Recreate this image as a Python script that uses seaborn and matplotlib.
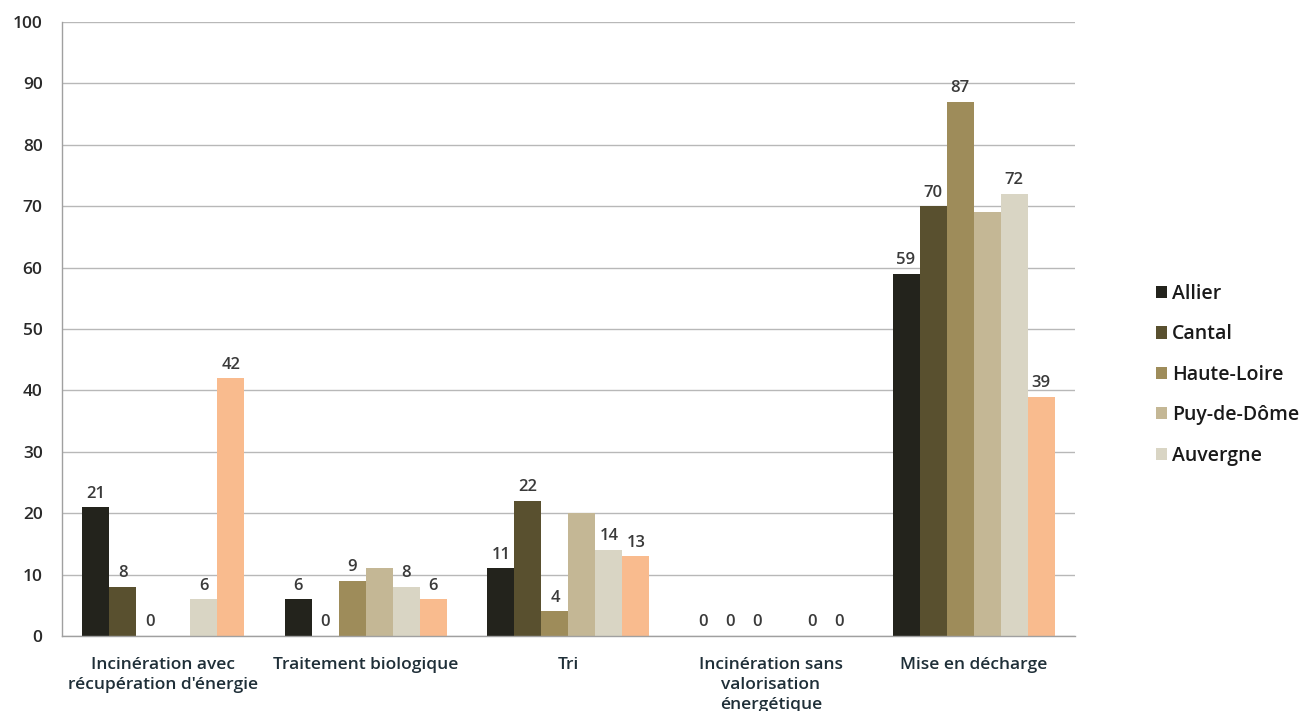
import numpy as np
import pandas as pd
import matplotlib
matplotlib.use("Agg")
import matplotlib.pyplot as plt
import seaborn as sns

# Treatment modes (x categories)
categories = [
    "Incinération avec\nrécupération d'énergie",
    "Traitement biologique",
    "Tri",
    "Incinération sans\nvalorisation\nénergétique",
    "Mise en décharge",
]

# Share (%) of household waste per treatment mode
allier      = [21, 6, 11, 0, 59]
cantal      = [8, 0, 22, 0, 70]
haute_loire = [0, 9, 4, 0, 87]
puy_de_dome = [np.nan, 11, 20, np.nan, 69]
auvergne    = [6, 8, 14, 0, 72]
france      = [42, 6, 13, 0, 39]

series_names = ["Allier", "Cantal", "Haute-Loire", "Puy-de-Dôme", "Auvergne", "France"]
series_values = [allier, cantal, haute_loire, puy_de_dome, auvergne, france]
legend_names = ["Allier", "Cantal", "Haute-Loire", "Puy-de-Dôme", "Auvergne"]
labelled = ["Allier", "Cantal", "Haute-Loire", "Auvergne", "France"]

colors = ["#23231c", "#59502f", "#9e8c5a", "#c4b795", "#d9d5c4", "#f9bb8e"]

rows = []
for name, vals in zip(series_names, series_values):
    for cat, v in zip(categories, vals):
        rows.append({"mode": cat, "zone": name, "pct": v})
df = pd.DataFrame(rows)

sns.set_theme(style="white")
plt.rcParams["font.family"] = ["Open Sans", "DejaVu Sans"]
plt.rcParams["font.weight"] = "semibold"

fig = plt.figure(figsize=(13.06, 7.11), dpi=100)
ax = fig.add_axes([0.0475, 0.1055, 0.7755, 0.8635])

sns.barplot(
    data=df, x="mode", y="pct", hue="zone",
    order=categories, hue_order=series_names,
    palette=colors, width=0.8, saturation=1, linewidth=0,
    errorbar=None, ax=ax,
)

# Value labels above bars (Puy-de-Dôme is not labelled)
for name, cont in zip(series_names, ax.containers):
    if name in labelled:
        ax.bar_label(cont, fmt="%g", padding=4, fontsize=12, color="#3a3a3a",
                     fontweight="semibold")

ax.set_ylim(0, 100)
ax.set_xlim(-0.5, len(categories) - 0.5)
ax.set_yticks(np.arange(0, 101, 10))
ax.yaxis.grid(True, color="#b8b8b8", linewidth=1)
ax.set_axisbelow(True)
ax.set_xlabel("")
ax.set_ylabel("")

for side in ["top", "right"]:
    ax.spines[side].set_visible(False)
for side in ["left", "bottom"]:
    ax.spines[side].set_color("#a0a0a0")
    ax.spines[side].set_linewidth(1)

ax.tick_params(axis="y", length=5, color="#a0a0a0", labelsize=12.5, labelcolor="#2a2a2a", pad=9)
ax.tick_params(axis="x", which="major", length=0, labelsize=12.5, labelcolor="#1f2f38", pad=15)
ax.set_xticks(np.arange(-0.5, len(categories), 1.0), minor=True)
ax.tick_params(axis="x", which="minor", length=5, color="#a0a0a0")
ax.set_xticklabels(categories, linespacing=1.32, fontweight="semibold")
for t in ax.get_yticklabels():
    t.set_fontweight("semibold")

handles, labels = ax.get_legend_handles_labels()
keep = [i for i, l in enumerate(labels) if l in legend_names]
leg = ax.legend(
    [handles[i] for i in keep], [labels[i] for i in keep],
    loc="center left", bbox_to_anchor=(0.879, 0.473), bbox_transform=fig.transFigure,
    frameon=False, handlelength=0.6, handleheight=0.6,
    handletextpad=0.25, labelspacing=1.05, borderaxespad=0,
    prop={"weight": "semibold", "size": 14},
)
for t in leg.get_texts():
    t.set_color("#1a1a1a")

fig.savefig("out.png", dpi=100)
